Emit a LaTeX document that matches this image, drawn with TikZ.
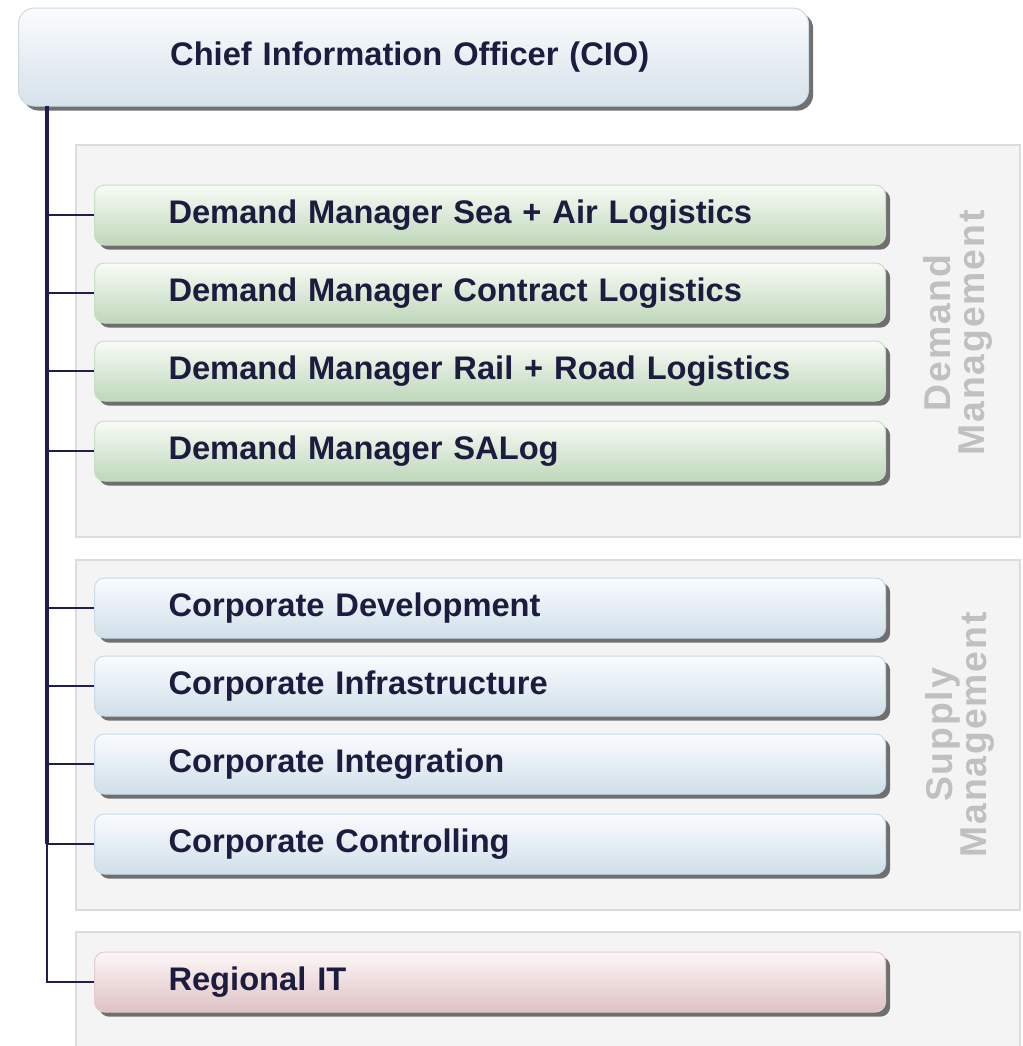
\documentclass[tikz,border=0pt]{standalone}
\usepackage{fontspec}
\setmainfont{Liberation Sans}
\usetikzlibrary{shadows}

\definecolor{navyline}{RGB}{30,30,80}
\definecolor{labeltext}{RGB}{28,28,62}
\definecolor{panelfill}{RGB}{244,244,244}
\definecolor{paneldraw}{RGB}{220,220,220}
\definecolor{sidegray}{RGB}{192,192,192}

\tikzset{
  panel/.style={draw=paneldraw, fill=panelfill, line width=0.9pt},
  unitbox/.style={anchor=west, rounded corners=7.5pt, line width=0.75pt,
    minimum width=593.25pt, minimum height=45pt, text width=482.25pt,
    inner xsep=55.5pt, align=left, text=labeltext,
    font=\fontsize{24.5}{29}\selectfont\bfseries,
    drop shadow={shadow xshift=3.5pt, shadow yshift=-3.5pt, fill=black!62, opacity=0.9}},
  demandbox/.style={unitbox, draw={rgb,255:red,200;green,222;blue,196},
    top color={rgb,255:red,248;green,251;blue,246}, bottom color={rgb,255:red,190;green,215;blue,186}},
  supplybox/.style={unitbox, draw={rgb,255:red,200;green,218;blue,232},
    top color={rgb,255:red,250;green,252;blue,254}, bottom color={rgb,255:red,208;green,223;blue,234}},
  regionbox/.style={unitbox, draw={rgb,255:red,228;green,202;blue,204},
    top color={rgb,255:red,253;green,247;blue,247}, bottom color={rgb,255:red,222;green,194;blue,196}},
  sidelabel/.style={rotate=90, align=center, text=sidegray,
    font=\fontsize{28}{26}\selectfont\bfseries\addfontfeature{LetterSpace=5}},
  branch/.style={draw=navyline, line width=1.8pt}
}

\begin{document}
\begin{tikzpicture}[x=0.75pt,y=0.75pt,yscale=-1,xscale=1]
\useasboundingbox (0,0) rectangle (1022,1046);

%Group panels
\draw [panel] (76,145) rectangle (1020,537) ;
\draw [panel] (76,560) rectangle (1020,910) ;
\draw [panel] (76,932) rectangle (1020,1064) ;

%Top box
\node [anchor=west, rounded corners=12pt, line width=0.75pt, draw={rgb,255:red,205;green,218;blue,228},
  top color={rgb,255:red,251;green,252;blue,253}, bottom color={rgb,255:red,214;green,226;blue,235},
  minimum width=592.5pt, minimum height=73.5pt, text width=477pt, inner xsep=57.75pt,
  align=left, text=labeltext, font=\fontsize{24.5}{29}\selectfont\bfseries,
  drop shadow={shadow xshift=3.5pt, shadow yshift=-3.5pt, fill=black!62, opacity=0.9}]
  (cio) at (18,57) {\hspace*{56pt}Chief Information Officer (CIO)};

%Demand management
\node [demandbox] (seaair) at (94,215) {Demand Manager Sea + Air Logistics};
\node [demandbox] (contract) at (94,293) {Demand Manager Contract Logistics};
\node [demandbox] (railroad) at (94,371) {Demand Manager Rail + Road Logistics};
\node [demandbox] (salog) at (94,451) {Demand Manager SALog};

%Supply management
\node [supplybox] (develop) at (94,608) {Corporate Development};
\node [supplybox] (infra) at (94,686) {Corporate Infrastructure};
\node [supplybox] (integr) at (94,764) {Corporate Integration};
\node [supplybox] (ctrl) at (94,844) {Corporate Controlling};

%Regional
\node [regionbox] (regional) at (94,982) {Regional IT};

% Text Node
\node [sidelabel] (demandlbl) at (958,333) {Demand\\Management};
% Text Node
\node [sidelabel] (supplylbl) at (960,735) {Supply\\Management};

%Connectors
\coordinate (trunk) at (47,106) ;
\draw [navyline, line width=3pt] (trunk) -- (trunk |- ctrl.west) ;
\draw [navyline, line width=1.8pt] (trunk |- ctrl.west) -- (trunk |- regional.west) -- (regional.west) ;
\foreach \unit in {seaair,contract,railroad,salog,develop,infra,integr,ctrl}
  \draw [branch] (trunk |- \unit.west) -- (\unit.west) ;

\end{tikzpicture}
\end{document}
